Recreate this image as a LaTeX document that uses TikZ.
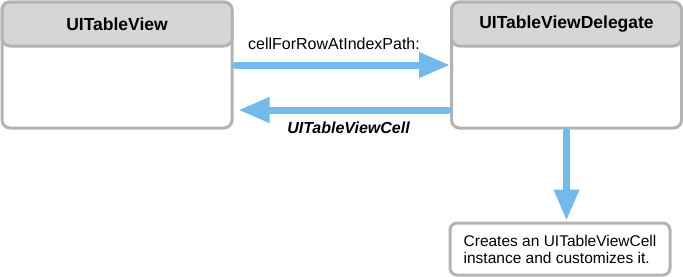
\documentclass[tikz,border=0pt]{standalone}
\usepackage{fontspec}
\setmainfont{Liberation Sans}
\usetikzlibrary{arrows.meta}
\definecolor{frame}{HTML}{B3B3B3}
\definecolor{head}{HTML}{D6D6D6}
\definecolor{flowblue}{HTML}{74B9EB}
\tikzset{
  classbox/.style={draw=frame, line width=3pt, rounded corners=8pt, fill=white,
    minimum width=230pt, minimum height=126pt, inner sep=0pt},
  classhead/.style={draw=frame, line width=3pt, rounded corners=8pt, fill=head,
    minimum width=230pt, minimum height=44pt, inner sep=0pt,
    font=\fontsize{17.5}{20}\selectfont\bfseries},
  notebox/.style={draw=frame, line width=3pt, rounded corners=7pt, fill=white,
    minimum width=220pt, minimum height=52pt, inner sep=0pt, align=left,
    font=\fontsize{15.5}{17}\selectfont},
  flow/.style={draw=flowblue, line width=7pt, line cap=round,
    -{Triangle[width=24pt,length=31pt]}},
  msg/.style={font=\fontsize{16}{19}\selectfont, inner sep=0pt},
}
\begin{document}
\begin{tikzpicture}[x=1pt,y=-1pt]
  \useasboundingbox (0,0) rectangle (683,276);

  % table view object
  \node[classbox] (tv) at (117,65) {};
  \node[classhead, anchor=north] (tvh) at (tv.north) {UITableView};

  % delegate object
  \node[classbox] (del) at (566.5,65) {};
  \node[classhead, anchor=north] (delh) at (del.north) {UITableViewDelegate};

  % what the delegate does
  \node[notebox] (note) at (560,249) {Creates an UITableViewCell\\instance and customizes it.};

  % request and reply
  \draw[flow, shorten <=2pt] (tv.east) -- (del.west);
  \node[msg] (req) at (334,44) {cellForRowAtIndexPath:};
  \draw[flow, shorten >=5pt, shorten <=2pt] ([yshift=-45pt]del.west) -- ([yshift=-45pt]tv.east);
  \node[msg, font=\fontsize{16}{19}\selectfont\bfseries\itshape] (reply) at (348.5,128) {UITableViewCell};

  % delegate creates the cell
  \draw[flow, shorten >=1pt, shorten <=2pt] (del.south) -- (del.south |- note.north);
\end{tikzpicture}
\end{document}
